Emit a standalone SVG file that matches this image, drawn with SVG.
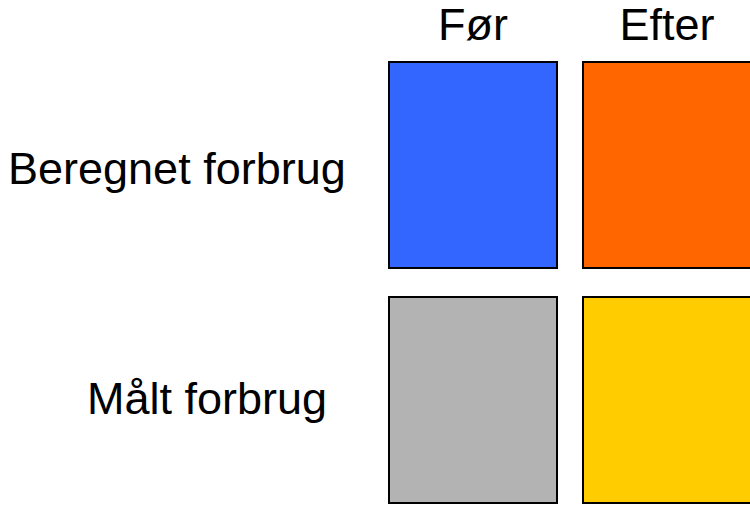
<svg xmlns="http://www.w3.org/2000/svg" width="750" height="505" viewBox="0 0 750 505">
<style>
text{font-family:"Liberation Sans",Arial,sans-serif;font-size:45px;fill:#000}
.box{stroke:#000;stroke-width:2}
</style>
<rect width="750" height="505" fill="#fff"/>
<g id="header-for"><text x="473" y="40" text-anchor="middle">Før</text></g>
<g id="header-efter"><text x="667" y="40" text-anchor="middle">Efter</text></g>
<g id="label-beregnet"><text x="8" y="184">Beregnet forbrug</text></g>
<g id="label-maalt"><text x="87" y="414">Målt forbrug</text></g>
<g id="beregnet-for"><rect class="box" x="389" y="62" width="168" height="206" fill="#3366ff"/></g>
<g id="beregnet-efter"><rect class="box" x="583" y="62" width="170" height="206" fill="#ff6600"/></g>
<g id="maalt-for"><rect class="box" x="389" y="297" width="168" height="206" fill="#b3b3b3"/></g>
<g id="maalt-efter"><rect class="box" x="583" y="297" width="170" height="206" fill="#ffcc00"/></g>
<g id="connectors"></g>
</svg>
